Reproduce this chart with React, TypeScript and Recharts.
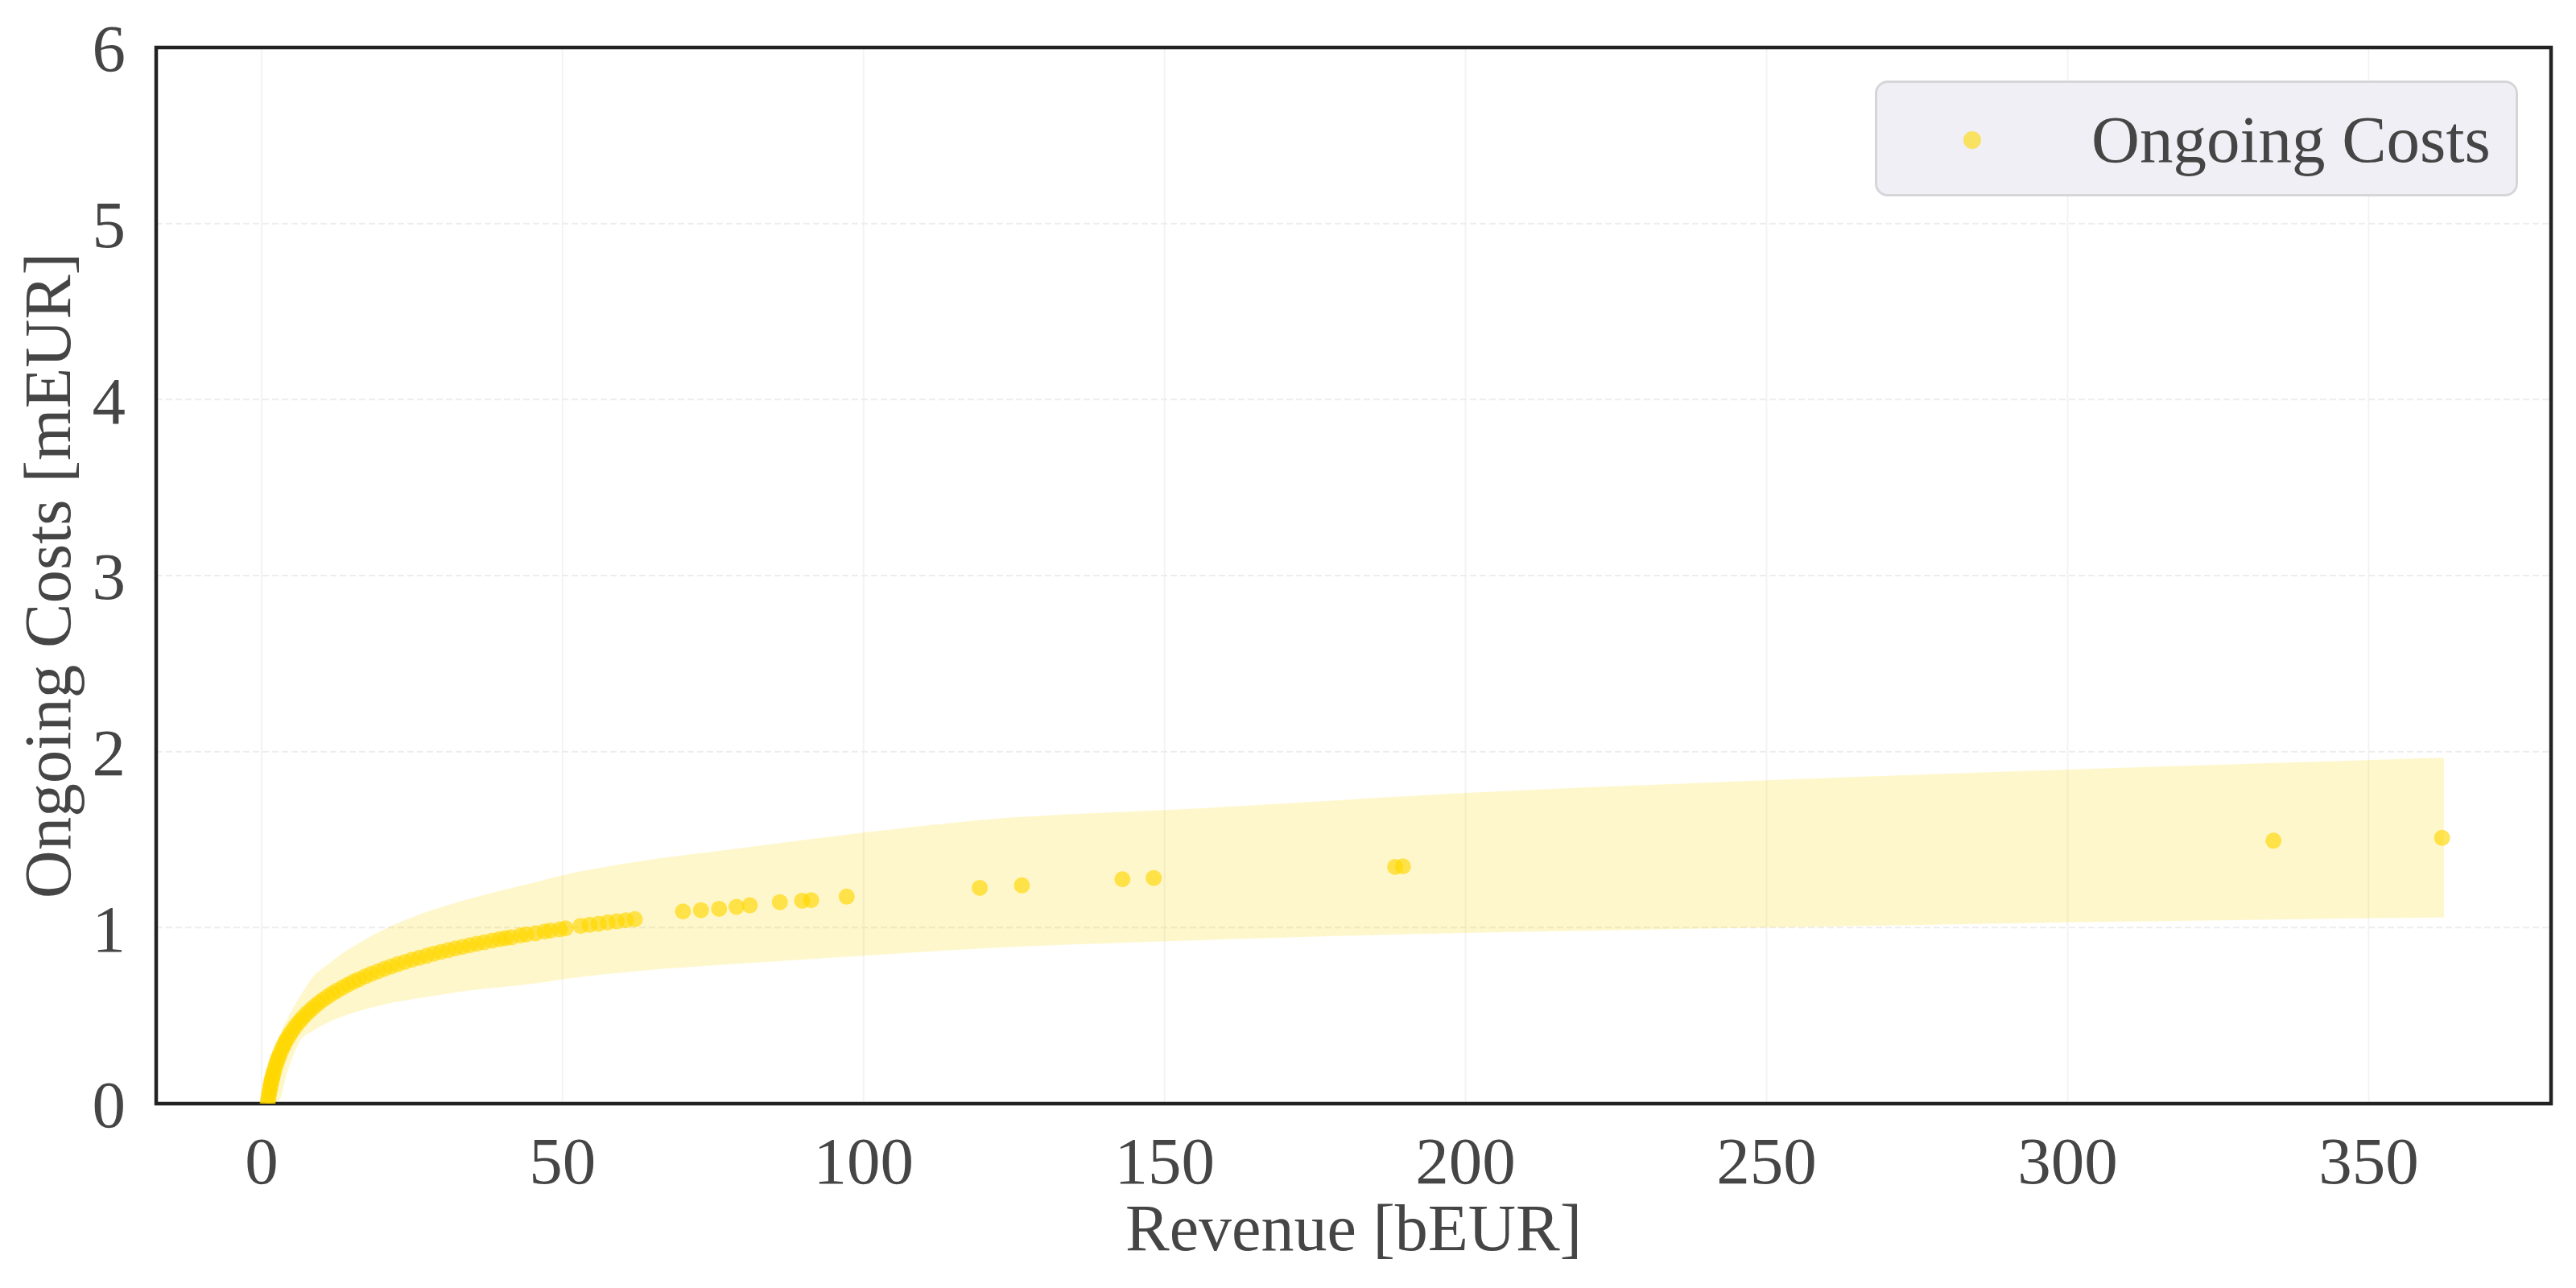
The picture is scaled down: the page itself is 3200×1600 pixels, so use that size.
import React from 'react';
import {
  ComposedChart,
  Scatter,
  Area,
  XAxis,
  YAxis,
  CartesianGrid,
  ReferenceArea,
  Legend,
  Label,
} from 'recharts';

// ---- data ----
const revenue = [
  1.0, 1.1, 1.2, 1.3, 1.4, 1.5, 1.6, 1.7, 1.8, 1.9, 2.0, 2.2, 2.4, 2.6, 2.8, 3.0,
  3.3, 3.6, 3.9, 4.2, 4.6, 5.0, 5.5, 6.0, 6.5, 7.0, 7.6, 8.2, 8.8, 9.5, 10.2, 11.0,
  11.8, 12.6, 13.5, 14.4, 15.3, 16.2, 17.2, 18.2, 19.3, 20.4, 21.5, 22.6, 23.8, 25.0,
  26.2, 27.4, 28.6, 29.8, 31.0, 32.2, 33.4, 34.6, 35.8, 37.0, 38.3, 39.5, 40.5, 41.5,
  43.0, 44.0, 45.5, 47.0, 48.0, 49.5, 50.5, 53.0, 54.5, 56.0, 57.5, 59.0, 60.5, 62.0,
  70.0, 73.0, 76.0, 78.9, 81.1, 86.1, 89.8, 91.3, 97.2, 119.3, 126.3, 143.0, 148.2,
  188.3, 189.6, 334.2, 362.2,
];
const ongoingCosts = [
  0.0, 0.024, 0.046, 0.067, 0.085, 0.103, 0.119, 0.135, 0.149, 0.163, 0.176, 0.2, 0.222,
  0.243, 0.262, 0.279, 0.303, 0.325, 0.346, 0.365, 0.388, 0.409, 0.433, 0.455, 0.475,
  0.494, 0.515, 0.534, 0.552, 0.572, 0.59, 0.609, 0.627, 0.643, 0.661, 0.677, 0.693,
  0.707, 0.722, 0.737, 0.751, 0.766, 0.779, 0.792, 0.805, 0.818, 0.829, 0.84, 0.852,
  0.862, 0.872, 0.882, 0.891, 0.9, 0.909, 0.917, 0.926, 0.934, 0.94, 0.945, 0.956,
  0.962, 0.968, 0.978, 0.983, 0.99, 0.996, 1.01, 1.016, 1.022, 1.03, 1.036, 1.042,
  1.048, 1.092, 1.099, 1.107, 1.118, 1.127, 1.145, 1.153, 1.156, 1.176, 1.226, 1.24,
  1.275, 1.282, 1.345, 1.348, 1.494, 1.51,
];

const bandRevenue = [
  0.2, 0.5, 1, 2, 3, 4.2, 5.5, 6.4, 8.6, 11, 13.1, 17.5, 21.9, 26.4, 35.2, 44.1, 50.3,
  63.4, 77, 100, 119, 157, 200, 250, 300, 362.5,
];
const bandLow = [
  0, 0, 0, 0, 0.02, 0.17, 0.29, 0.354, 0.415, 0.46, 0.49, 0.538, 0.575, 0.6, 0.646,
  0.677, 0.708, 0.756, 0.79, 0.84, 0.88, 0.93, 0.97, 1.0, 1.03, 1.057,
];
const bandHigh = [
  0, 0.08, 0.18, 0.31, 0.39, 0.477, 0.56, 0.61, 0.723, 0.79, 0.846, 0.938, 1.015, 1.077,
  1.17, 1.246, 1.3, 1.38, 1.44, 1.54, 1.61, 1.68, 1.765, 1.837, 1.898, 1.965,
];

const xTicks = [0, 50, 100, 150, 200, 250, 300, 350];
const yTicks = [0, 1, 2, 3, 4, 5, 6];
const xDomain: [number, number] = [-17.5, 380.3];
const yDomain: [number, number] = [0, 6];

const seriesName = 'Ongoing Costs';
const xLabel = 'Revenue [bEUR]';
const yLabel = 'Ongoing Costs [mEUR]';

// ---- tables built from the arrays ----
const scatterData = revenue.map((x, i) => ({ x, y: ongoingCosts[i] }));
const bandData = bandRevenue.map((x, i) => ({ x, range: [bandLow[i], bandHigh[i]] }));

const FONT = '"Liberation Serif", "Times New Roman", Times, serif';
const TEXT = '#454545';
const GOLD = '#FFD700';

const Dot = (props: any) => {
  const { cx, cy } = props;
  if (cx == null || cy == null) return null;
  return <circle cx={cx} cy={cy} r={10} fill={GOLD} fillOpacity={0.65} />;
};

const XLabelContent = (props: any) => {
  const vb = props.viewBox || {};
  return (
    <text
      x={vb.x + vb.width / 2}
      y={vb.y + 182}
      textAnchor="middle"
      fontSize={82}
      fill={TEXT}
      fontFamily={FONT}
    >
      {xLabel}
    </text>
  );
};

const YLabelContent = (props: any) => {
  const vb = props.viewBox || {};
  const bx = vb.x + 87;
  const cy = vb.y + vb.height / 2;
  return (
    <text
      x={bx}
      y={cy}
      transform={`rotate(-90 ${bx} ${cy})`}
      textAnchor="middle"
      fontSize={83}
      fill={TEXT}
      fontFamily={FONT}
    >
      {yLabel}
    </text>
  );
};

const LegendContent = (props: any) => {
  const payload = (props.payload || []).filter((p: any) => p.type !== 'none');
  return (
    <div
      style={{
        boxSizing: 'border-box',
        width: 799,
        height: 144,
        background: '#EFEFF5',
        border: '3px solid #D6D6D9',
        borderRadius: 16,
        position: 'relative',
        fontFamily: FONT,
      }}
    >
      {payload.map((p: any) => (
        <div key={p.value}>
          <div
            style={{
              position: 'absolute',
              left: 107,
              top: 60,
              width: 22,
              height: 22,
              borderRadius: 11,
              background: GOLD,
              opacity: 0.6,
            }}
          />
          <div
            style={{
              position: 'absolute',
              left: 266,
              top: 20,
              fontSize: 83,
              lineHeight: '100px',
              color: TEXT,
              whiteSpace: 'nowrap',
            }}
          >
            {p.value}
          </div>
        </div>
      ))}
    </div>
  );
};

export default function App() {
  return (
    <div style={{ position: 'absolute', left: 0, top: 0, width: 3200, height: 1600, background: '#fff' }}>
      <ComposedChart
        width={3200}
        height={1600}
        margin={{ top: 59, right: 31, bottom: 0, left: 0 }}
        style={{ fontFamily: FONT }}
      >
        <CartesianGrid horizontal={false} stroke="#F3F3F3" strokeWidth={2} />
        <CartesianGrid vertical={false} stroke="#EDEDED" strokeWidth={2} strokeDasharray="8 4" />
        <XAxis
          dataKey="x"
          type="number"
          domain={xDomain}
          ticks={xTicks}
          allowDataOverflow
          height={229}
          tickSize={0}
          tickMargin={40}
          tickLine={false}
          axisLine={false}
          tick={{ fontSize: 83, fill: TEXT, fontFamily: FONT }}
          interval={0}
        >
          <Label content={<XLabelContent />} />
        </XAxis>
        <YAxis
          type="number"
          domain={yDomain}
          ticks={yTicks}
          allowDataOverflow
          width={194}
          tickSize={0}
          tickMargin={38}
          tickLine={false}
          axisLine={false}
          tick={{ fontSize: 83, fill: TEXT, fontFamily: FONT }}
          interval={0}
        >
          <Label content={<YLabelContent />} />
        </YAxis>
        <Area
          data={bandData}
          dataKey="range"
          type="monotone"
          stroke="none"
          fill={GOLD}
          fillOpacity={0.2}
          isAnimationActive={false}
          legendType="none"
          activeDot={false}
          dot={false}
        />
        <Scatter
          name={seriesName}
          data={scatterData}
          dataKey="y"
          fill={GOLD}
          shape={<Dot />}
          isAnimationActive={false}
        />
        <ReferenceArea
          x1={xDomain[0]}
          x2={xDomain[1]}
          y1={yDomain[0]}
          y2={yDomain[1]}
          fill="none"
          stroke="#222"
          strokeWidth={4.5}
          ifOverflow="visible"
        />
        <Legend
          layout="horizontal"
          verticalAlign="middle"
          align="center"
          content={<LegendContent />}
          wrapperStyle={{ position: 'absolute', top: 100, left: 2329, width: 799, height: 144 }}
        />
      </ComposedChart>
    </div>
  );
}
